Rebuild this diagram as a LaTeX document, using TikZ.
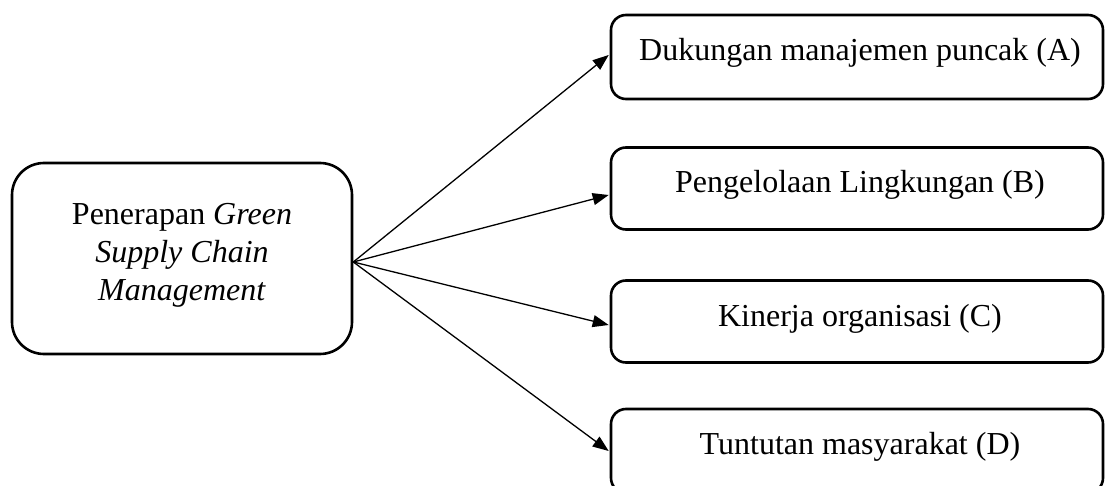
\documentclass[tikz,border=0pt]{standalone}
\usepackage{fontspec}
\setmainfont{Liberation Serif}
\usetikzlibrary{arrows.meta}
\begin{document}
\begin{tikzpicture}[x=1pt,y=-1pt,
  rbox/.style={draw, line width=2.6pt, rounded corners=15pt, minimum width=492pt, minimum height=82pt, inner sep=0pt},
  lbox/.style={draw, line width=2.6pt, rounded corners=32pt, minimum width=340pt, minimum height=191pt, inner sep=0pt},
  lbl/.style={font=\fontsize{32}{38}\selectfont, inner sep=0pt},
  arr/.style={line width=1.3pt, -{Triangle[length=16pt,width=12pt]}}]
\useasboundingbox (0,0) rectangle (1105,486);
\clip (0,0) rectangle (1105,486);
% left box
\node[lbox] (L) at (182,258.5) {};
\node[lbl, align=center] (Lt) at (182,255) {Penerapan \textit{Green}\\\textit{Supply Chain}\\\textit{Management}};
% right boxes
\node[rbox, minimum height=84pt] (A) at (857,57) {};
\node[rbox] (B) at (857,188.5) {};
\node[rbox] (C) at (857,321.5) {};
\node[rbox, minimum height=84pt] (D) at (857,451) {};
\node[lbl, anchor=base] (At) at (860,61) {Dukungan manajemen puncak (A)};
\node[lbl, anchor=base] (Bt) at (860,193) {Pengelolaan Lingkungan (B)};
\node[lbl, anchor=base] (Ct) at (860,326) {Kinerja organisasi (C)};
\node[lbl, anchor=base] (Dt) at (860,454) {Tuntutan masyarakat (D)};
% arrows
\coordinate (s) at ([yshift=-3.5pt]L.east);
\draw[arr] (s) -- ([yshift=2pt,xshift=-1pt]A.west);
\draw[arr] (s) -- ([yshift=-6.5pt,xshift=-1pt]B.west);
\draw[arr] (s) -- ([yshift=-3.5pt,xshift=-1pt]C.west);
\draw[arr] (s) -- ([yshift=0pt,xshift=-1pt]D.west);
\end{tikzpicture}
\end{document}
